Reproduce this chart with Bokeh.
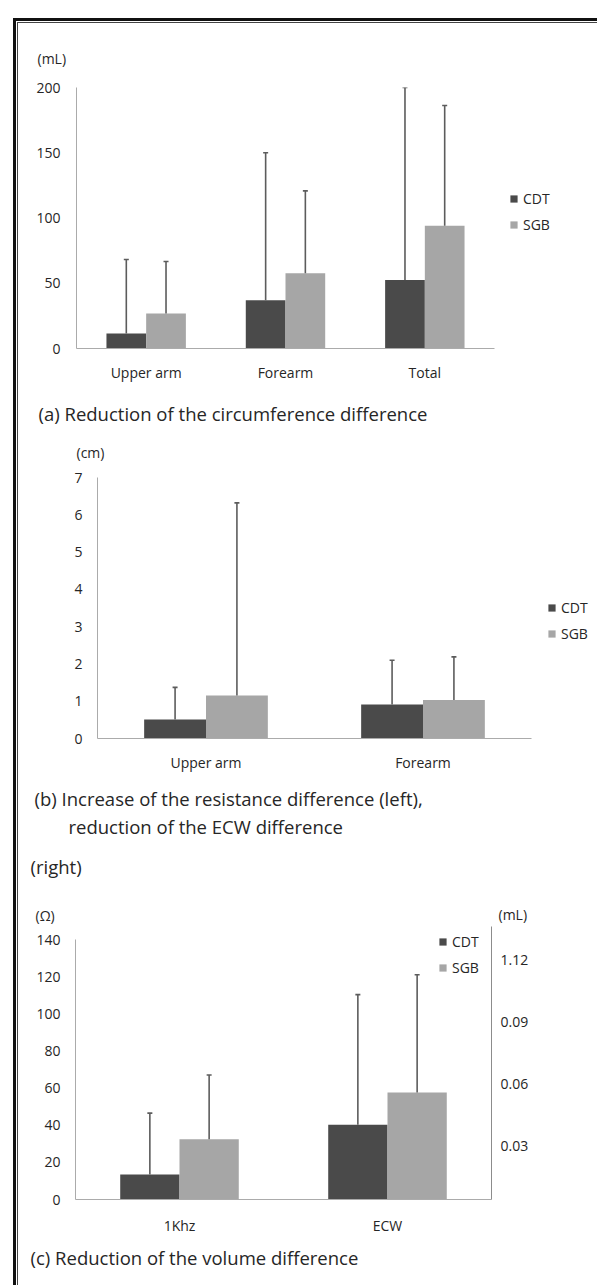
from bokeh.plotting import figure
from bokeh.models import (Range1d, LinearAxis, FixedTicker, Legend,
                          LegendItem, Label, ColumnDataSource, Div)
from bokeh.embed import file_html
from bokeh.resources import INLINE

# ---------------- data ----------------
series = ["CDT", "SGB"]

a_categories = ["Upper arm", "Forearm", "Total"]
a_cdt_mean = [11.5, 37.0, 52.4]
a_cdt_sd = [56.7, 113.0, 147.6]
a_sgb_mean = [26.8, 57.7, 94.0]
a_sgb_sd = [39.9, 63.1, 92.2]
a_yticks = [0, 50, 100, 150, 200]

b_categories = ["Upper arm", "Forearm"]
b_cdt_mean = [0.51, 0.91]
b_cdt_sd = [0.86, 1.19]
b_sgb_mean = [1.15, 1.03]
b_sgb_sd = [5.17, 1.16]
b_yticks = [0, 1, 2, 3, 4, 5, 6, 7]

c_categories = ["1Khz", "ECW"]
c_cdt_mean = [13.4, 40.2]
c_cdt_sd = [33.1, 70.1]
c_sgb_mean = [32.5, 57.6]
c_sgb_sd = [34.5, 63.4]
c_yticks = [0, 20, 40, 60, 80, 100, 120, 140]
c_right_ticks = [0.03, 0.06, 0.09, 0.12]
c_right_labels = ["0.03", "0.06", "0.09", "1.12"]

# ---------------- style ----------------
FONT = "Open Sans"
CDT_COLOR = "#4a4a4a"
SGB_COLOR = "#a6a6a6"
ERR_COLOR = "#5c5c5c"
AXIS_COLOR = "#ababab"
TEXT_COLOR = "#262626"
W = 590
BAR_W = 0.285
OFF = BAR_W / 2
CAP = "18.5px"
UNIT = "14px"


def text_strip(H, items):
    p = figure(width=W, height=H, x_range=Range1d(0, W), y_range=Range1d(H, 0),
               x_axis_type=None, y_axis_type=None, min_border=0,
               output_backend="svg", toolbar_location=None)
    p.outline_line_color = None
    for txt, x, y, size in items:
        p.add_layout(Label(x=x, y=y, text=txt, text_font=FONT, text_font_size=size,
                           text_color=TEXT_COLOR, text_align="left",
                           text_baseline="middle"))
    return p


def make_chart(cats, cdt_m, cdt_s, sgb_m, sgb_s, yticks, y_end, H, bl, bt, br, bb,
               axis_right_px, ystandoff, xstandoff, legend_loc):
    n = len(cats)
    frame_w = W - bl - br
    axis_w = axis_right_px - bl
    x_end = n * frame_w / axis_w          # room on the right of the axis for the legend
    p = figure(width=W, height=H, output_backend="svg", toolbar_location=None,
               x_range=Range1d(0, x_end), y_range=Range1d(0, y_end),
               min_border_left=bl, min_border_right=br, min_border_top=bt,
               min_border_bottom=bb)
    p.outline_line_color = None
    p.xgrid.visible = False
    p.ygrid.visible = False

    centers = [i + 0.5 for i in range(n)]
    src = ColumnDataSource(dict(
        cdt_x=[c - OFF for c in centers], sgb_x=[c + OFF for c in centers],
        cdt=cdt_m, sgb=sgb_m,
        cdt_top=[m + s for m, s in zip(cdt_m, cdt_s)],
        sgb_top=[m + s for m, s in zip(sgb_m, sgb_s)],
    ))
    rends = []
    for key, col in (("cdt", CDT_COLOR), ("sgb", SGB_COLOR)):
        r = p.vbar(x=key + "_x", top=key, bottom=0, width=BAR_W, source=src,
                   fill_color=col, line_color=None)
        rends.append(r)
        p.segment(x0=key + "_x", y0=key, x1=key + "_x", y1=key + "_top", source=src,
                  line_color=ERR_COLOR, line_width=1.6)
        p.scatter(x=key + "_x", y=key + "_top", marker="dash", size=5, source=src,
                  line_color=ERR_COLOR, line_width=1.6)

    for ax in (p.yaxis[0], p.xaxis[0]):
        ax.axis_line_color = AXIS_COLOR
        ax.major_tick_line_color = None
        ax.minor_tick_line_color = None
        ax.major_tick_out = 0
        ax.major_label_text_font = FONT
        ax.major_label_text_font_size = "14px"
        ax.major_label_text_color = TEXT_COLOR
    p.yaxis[0].ticker = FixedTicker(ticks=yticks)
    p.yaxis[0].major_label_standoff = ystandoff
    p.yaxis[0].bounds = (min(yticks), max(yticks))
    p.xaxis[0].ticker = FixedTicker(ticks=centers)
    p.xaxis[0].major_label_overrides = dict(zip(centers, cats))
    p.xaxis[0].major_label_standoff = xstandoff
    p.xaxis[0].bounds = (0, n)

    legend = Legend(items=[LegendItem(label=series[0], renderers=[rends[0]]),
                           LegendItem(label=series[1], renderers=[rends[1]])],
                    location=legend_loc, orientation="vertical",
                    glyph_width=9, glyph_height=9, label_height=20, spacing=6,
                    padding=0, margin=0, label_standoff=5,
                    border_line_color=None, background_fill_alpha=0,
                    label_text_font=FONT, label_text_font_size="14px",
                    label_text_color=TEXT_COLOR)
    p.add_layout(legend)
    return p


# strip above chart (a): page y 0..70
t0 = text_strip(70, [("(mL)", 37, 58, UNIT)])

# chart (a): page y 70..395  (frame x 76..590, axis to 494)
pa = make_chart(a_categories, a_cdt_mean, a_cdt_sd, a_sgb_mean, a_sgb_sd, a_yticks, 200,
                325, 76, 17, 0, 47, 494, 16, 14, (433, 113.5))

# strip between (a) and (b): page y 395..465
t1 = text_strip(70, [("(a) Reduction of the circumference difference", 38, 18, CAP),
                     ("(cm)", 76, 57, UNIT)])

# chart (b): page y 465..785  (frame x 97..590, axis to 531)
pb = make_chart(b_categories, b_cdt_mean, b_cdt_sd, b_sgb_mean, b_sgb_sd, b_yticks, 7,
                320, 97, 12, 0, 47, 531, 15, 14, (450, 95))

# strip between (b) and (c): page y 785..926
t2 = text_strip(141, [("(b) Increase of the resistance difference (left),", 34, 13, CAP),
                      ("reduction of the ECW difference", 68, 41, CAP),
                      ("(right)", 30, 81, CAP),
                      ("(Ω)", 35, 130, UNIT),
                      ("(mL)", 498, 129, UNIT)])

# chart (c): page y 926..1240  (frame x 75..491)
pc = make_chart(c_categories, c_cdt_mean, c_cdt_sd, c_sgb_mean, c_sgb_sd, c_yticks, 147.0,
                314, 75, 0, 99, 41, 491, 15, 16, (363, 222))
pc.extra_y_ranges = {"right": Range1d(0.0039, 0.136)}
rax = LinearAxis(y_range_name="right", ticker=FixedTicker(ticks=c_right_ticks),
                 major_label_overrides=dict(zip(c_right_ticks, c_right_labels)))
rax.axis_line_color = "#8c8c8c"
rax.major_tick_line_color = None
rax.minor_tick_line_color = None
rax.major_tick_out = 0
rax.major_label_standoff = 9
rax.major_label_text_font = FONT
rax.major_label_text_font_size = "14px"
rax.major_label_text_color = TEXT_COLOR
pc.add_layout(rax, "right")

# strip below (c): page y 1240..1275
t3 = text_strip(35, [("(c) Reduction of the volume difference", 30, 17, CAP)])

# double-line page frame (left and top edges)
outer = Div(text="", styles={"position": "absolute", "left": "8px", "top": "13px",
                             "width": "589px", "height": "1272px",
                             "border-left": "3px solid #111111",
                             "border-top": "3px solid #111111",
                             "box-sizing": "border-box", "pointer-events": "none",
                             "z-index": "10"})
inner = Div(text="", styles={"position": "absolute", "left": "12px", "top": "17px",
                             "width": "585px", "height": "1268px",
                             "border-left": "1px solid #444444",
                             "border-top": "1px solid #444444",
                             "box-sizing": "border-box", "pointer-events": "none",
                             "z-index": "10"})

roots = [t0, pa, t1, pb, t2, pc, t3, outer, inner]
open("out.html", "w").write(file_html(roots, INLINE))
